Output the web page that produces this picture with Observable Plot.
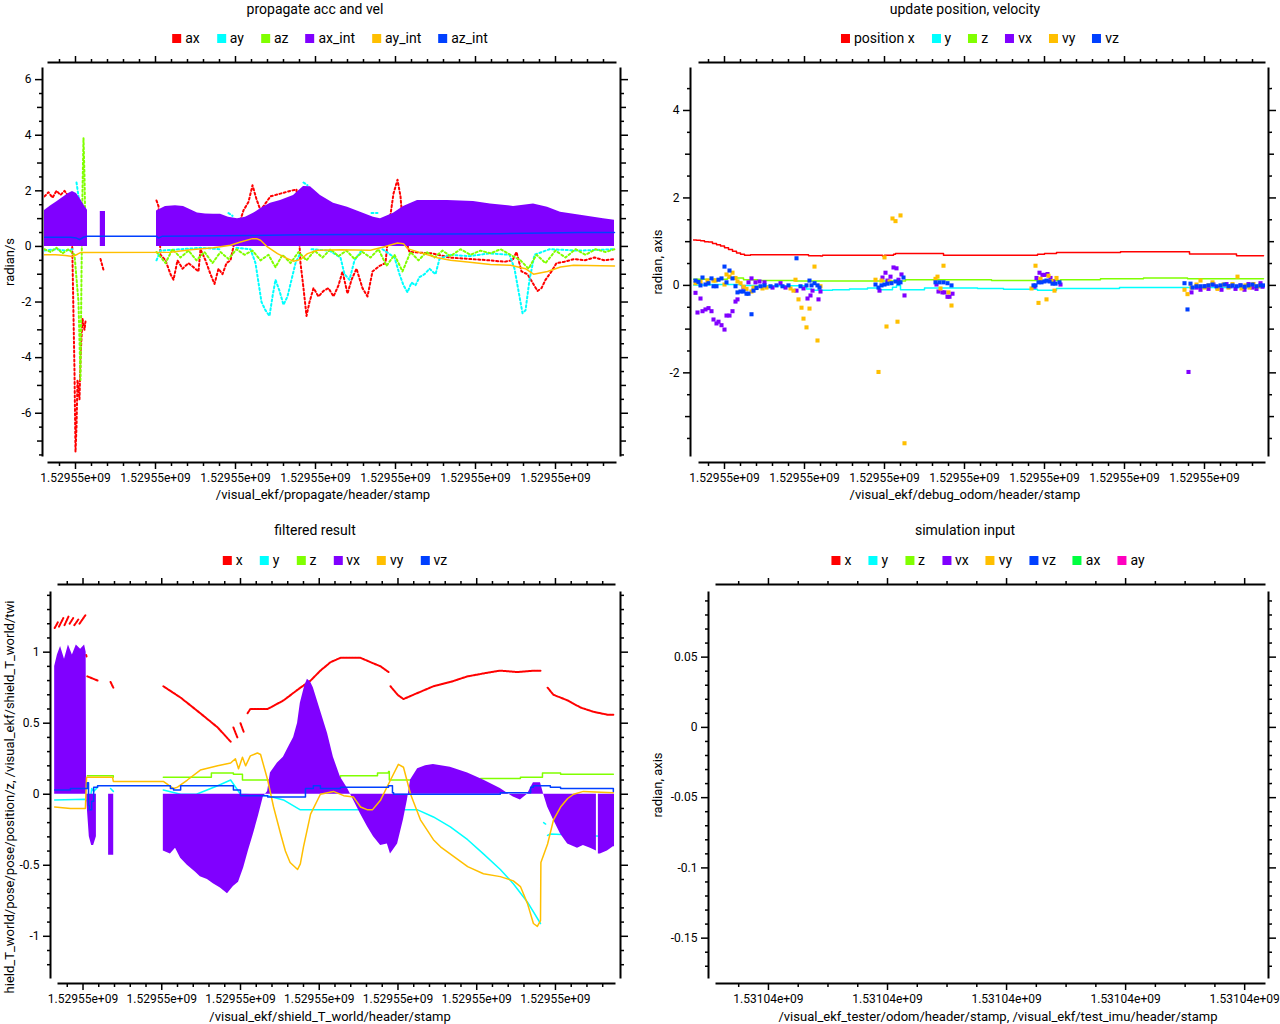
<!DOCTYPE html>
<html><head><meta charset="utf-8">
<script src="https://cdn.jsdelivr.net/npm/d3@7"></script>
<script src="https://cdn.jsdelivr.net/npm/@observablehq/plot@0.6"></script>
<style>
body{margin:0;background:#fff;}
#fig{position:relative;width:1280px;height:1024px;overflow:hidden;font-family:Roboto,"Noto Sans",sans-serif;color:#000;background:#fff;}
.title{position:absolute;font-size:14px;line-height:16px;white-space:nowrap;transform:translateX(-50%);}
.legend{position:absolute;display:flex;gap:17px;font-size:14px;line-height:16px;transform:translateX(-50%);white-space:nowrap;align-items:center;}
.legend .item{display:flex;align-items:center;}
.legend i{display:inline-block;width:9px;height:9px;margin-right:4px;}
.xlabel{position:absolute;font-size:13px;line-height:14px;transform:translateX(-50%);white-space:nowrap;}
.ylab{position:absolute;overflow:hidden;}
.ylab div{position:absolute;left:50%;top:50%;transform:translate(-50%,-50%) rotate(-90deg);white-space:nowrap;font-size:13px;line-height:14px;}
.plot{position:absolute;}
</style></head><body><div id="fig"></div><script>
// ---------- data ----------
const T0 = 1529550000;   // base of /visual_ekf stamps (s)
const T1 = 1531040000;   // base of simulation stamps (s)
const palette = ["#ff0000","#00ffff","#80ff00","#8000ff","#ffbf00","#0040ff","#00ff40","#ff00bf"];

// panel 1: propagate acc and vel  [time offset s, value]
const tlAx = [[32.25,1.8],[33.25,1.95],[34.25,1.75],[35.25,2.0],[36.25,1.85],[37.25,2.0],[38.25,1.8],[39,1.2],[39.25,-0.5],[39.5,-2.5],[39.75,-4.5],[40,-7.4],[40.25,-6.5],[40.5,-4.8],[41,-5.5],[41.25,-4.0],[41.75,-2.6],[42.25,-3.0],[42.5,-2.7],[43,NaN],[46.25,-0.45],[47,-0.85],[47.5,NaN],[60.25,1.65],[60.75,1.45],[61.25,-0.3],[62.5,-0.5],[63.75,-1.0],[64.5,-1.2],[65.5,-0.5],[66.75,-0.8],[68.25,-0.6],[69.5,-0.75],[70.75,-0.9],[71.25,-0.1],[72.5,-0.5],[73.75,-1.0],[74.75,-1.35],[75.75,-0.8],[76.75,-1.0],[77.75,-0.6],[78.75,-0.5],[80.25,0.5],[82,1.3],[83.25,1.6],[84.25,2.2],[85.25,1.7],[86.25,1.3],[88.75,1.8],[91.25,1.9],[93.75,2.0],[95.25,2.05],[96.25,-0.6],[97,-1.5],[97.75,-2.5],[98.5,-2.0],[99.5,-1.5],[100.75,-1.8],[102,-1.6],[103.25,-1.5],[104.5,-1.8],[105.75,-1.4],[106.75,-0.9],[108,-1.7],[109,-1.2],[110.25,-0.8],[111.75,-1.5],[113,-1.8],[114.25,-0.9],[116,-0.7],[117.5,-0.6],[118.5,0.9],[119.5,1.9],[120.5,2.4],[121.25,1.8],[122,0.5],[123.5,-0.2],[129.25,-0.25],[133.5,-0.4],[138.5,-0.45],[143.5,-0.5],[147.25,-0.55],[149.25,-0.5],[150.25,-0.2],[151.5,-0.9],[153,-1.0],[154.25,-1.3],[155.5,-1.6],[156.5,-1.5],[157.5,-1.2],[159,-0.9],[160.25,-0.6],[162.25,-0.55],[164.75,-0.45],[167.25,-0.5],[169.75,-0.4],[172.25,-0.5],[174.75,-0.45]];
const tlAy = [[32.25,-0.15],[35,-0.1],[37.5,-0.15],[39.25,-0.1],[39.5,NaN],[40.25,2.3],[40.75,1.8],[41.25,1.5],[41.5,NaN],[60.25,-0.5],[61.25,-0.15],[66.25,-0.1],[71.25,-0.05],[76.25,-0.1],[77,NaN],[78.25,1.2],[79.25,1.1],[79.5,NaN],[80.25,-0.05],[83.75,-0.1],[85,-0.6],[85.75,-1.3],[86.5,-2.0],[87.5,-2.3],[88.5,-2.5],[89.25,-1.8],[90,-1.2],[91,-1.6],[92,-2.1],[93,-1.8],[94,-1.2],[95,-0.6],[96,-0.3],[96.5,NaN],[97,2.3],[98,2.2],[98.5,NaN],[99,-0.1],[103.5,-0.15],[106.25,-0.4],[107.25,-1.0],[108.5,-1.2],[109.75,-0.5],[111.5,-0.15],[113,NaN],[114,1.2],[115.5,1.2],[116,NaN],[116.75,-0.1],[119.75,-0.4],[121,-1.0],[122,-1.4],[123,-1.65],[124,-1.3],[125,-1.4],[126,-1.1],[127.25,-1.0],[128.5,-0.8],[130,-1.0],[131,-0.45],[133.5,-0.3],[138.5,-0.35],[143.5,-0.25],[148.5,-0.3],[149.75,-0.8],[150.75,-1.6],[151.75,-2.4],[152.5,-2.3],[153.5,-1.2],[154.75,-0.3],[158.5,-0.1],[166,-0.15],[174.75,-0.1]];
const tlAz = [[32.25,-0.1],[33.75,-0.2],[35.25,-0.05],[36.75,-0.25],[38.25,-0.1],[39.75,-0.3],[40.75,-2.0],[41.25,-4.8],[41.5,-1.0],[41.75,2.0],[42,3.9],[42.25,2.5],[42.5,0.3],[43,NaN],[60.25,-0.2],[62.5,-0.6],[64.25,-0.1],[66.25,-0.4],[68.25,-0.15],[70.25,-0.5],[72.25,-0.2],[74.25,-0.6],[76.25,-0.2],[78.25,-0.45],[80.25,-0.1],[82.25,-0.3],[84.25,-0.15],[86.25,-0.5],[88.25,-0.3],[90,-0.75],[91.75,-0.3],[93.75,-0.6],[95.75,-0.2],[97.75,-0.5],[99.75,-0.15],[101.75,-0.4],[103.75,-0.1],[105.75,-0.35],[107.75,-0.15],[109.75,-0.45],[111.75,-0.2],[113.75,-0.4],[115.75,-0.1],[117.75,-0.7],[119.75,-0.3],[121.75,-0.9],[123.75,-0.2],[125.75,-0.5],[127.75,-0.2],[129.75,-0.4],[131.75,-0.15],[133.75,-0.35],[136.25,-0.1],[138.75,-0.3],[141.25,-0.15],[143.75,-0.25],[146.25,-0.1],[148.75,-0.3],[151.25,-0.5],[153.25,-0.8],[155.25,-0.3],[157.5,-0.6],[160,-0.15],[162.5,-0.4],[165,-0.1],[167.5,-0.3],[170,-0.1],[172.5,-0.2],[174.75,-0.1]];
const tlAxInt = [[32.25,1.29],[33.75,1.45],[35.25,1.6],[36.75,1.75],[38.25,1.9],[39.25,1.98],[40.25,1.9],[41.25,1.7],[42.25,1.45],[43,1.3],[43.1,NaN],[46.2,1.26],[47.5,1.26],[47.6,NaN],[60.25,1.27],[61.25,1.35],[62.5,1.44],[65,1.46],[67,1.44],[68.75,1.32],[70.5,1.2],[72.5,1.17],[74.5,1.16],[76.25,1.16],[78.25,1.05],[80.5,1.0],[82.5,1.05],[84.5,1.19],[86.75,1.4],[88.75,1.55],[91.25,1.65],[94.5,1.83],[97,2.16],[98.75,2.15],[101.25,1.83],[104.5,1.55],[108,1.41],[111.25,1.23],[114.5,1.05],[116.25,1.0],[119.5,1.19],[122,1.44],[125.5,1.65],[133,1.65],[139.5,1.62],[143.75,1.53],[149.5,1.44],[154.5,1.53],[158,1.41],[161.25,1.23],[166.25,1.12],[172,1.0],[174.75,0.94]];
const tlAyInt = [[32.25,-0.3],[35,-0.3],[37.5,-0.33],[39.25,-0.36],[40.5,-0.28],[41.25,-0.22],[63.75,-0.21],[68.75,-0.12],[74.5,-0.05],[78.75,0.04],[81.25,0.16],[84.25,0.28],[85.25,0.28],[86.25,0.22],[88,-0.02],[90.5,-0.26],[93,-0.44],[94.5,-0.53],[96.25,-0.47],[98,-0.26],[100.5,-0.14],[106.25,-0.12],[113.75,-0.14],[117,-0.02],[120.5,0.12],[122,0.1],[123,-0.08],[127,-0.26],[130.5,-0.41],[133.75,-0.5],[138,-0.56],[143.75,-0.65],[148.75,-0.68],[152.5,-0.8],[154.5,-1.0],[158,-0.9],[161.25,-0.74],[164.5,-0.68],[174.75,-0.7]];
const tlAzInt = [[32.25,0.33],[38.75,0.33],[40.25,0.3],[41,0.25],[42,0.33],[43,0.37],[60.25,0.37],[60.75,0.3],[61.75,0.37],[83.5,0.39],[96,0.42],[121,0.44],[146,0.46],[166,0.5],[174.75,0.5]];

// panel 2: update position, velocity
const trPosX = [[32.25,1.04],[33,1.03],[34,1.02],[35,1.0],[36,0.99],[37,0.96],[38,0.93],[39,0.9],[40,0.86],[41,0.82],[42,0.78],[43,0.74],[44,0.71],[45,0.69],[46.5,0.7],[60.5,0.7],[61,0.68],[64,0.67],[64.5,0.69],[79,0.69],[79.5,0.67],[80,0.69],[82.25,0.71],[82.75,0.73],[94,0.73],[94.75,0.69],[117.75,0.69],[118.25,0.71],[120,0.73],[123,0.75],[138.75,0.75],[139,0.77],[155.5,0.77],[156.25,0.72],[167.5,0.72],[168,0.68],[174.75,0.68]];
const trPosY = [[32.25,0.01],[36.5,0.02],[44,0.0],[48,-0.01],[60.5,-0.08],[61.75,-0.11],[67,-0.1],[71.25,-0.08],[75.75,-0.06],[78.75,-0.1],[82,-0.04],[83,0.0],[84,-0.1],[90,-0.06],[103.25,-0.07],[109.75,-0.09],[118.25,-0.11],[123,-0.07],[138.75,-0.05],[174.75,-0.05]];
const trPosZ = [[32.25,0.14],[40.75,0.17],[44.75,0.13],[48.25,0.11],[57.75,0.1],[85.25,0.13],[106.75,0.11],[124,0.13],[134,0.15],[144.75,0.17],[155.75,0.15],[174.75,0.15]];
const trVx = [[32.75,-0.17],[33.25,-0.62],[34,-0.3],[34.5,-0.59],[35.25,-0.55],[36,-0.52],[36.75,-0.59],[37.25,-0.78],[38,-0.87],[38.5,-0.83],[39.25,-0.91],[40,-1.01],[40.5,-0.69],[41.25,-0.69],[42,-0.59],[42.75,-0.37],[43.25,-0.32],[44.75,-0.05],[46,0.07],[46.75,0.16],[47.75,0.07],[48.75,0.09],[50,0.07],[52,-0.05],[54,0.05],[55.25,-0.05],[58,-0.12],[59.75,-0.07],[60.75,-0.3],[61.5,-0.23],[62,-0.12],[63.5,-0.32],[64,-0.14],[78.75,-0.12],[79.5,0.18],[80.25,0.29],[80.75,0.11],[81.5,0.2],[82.25,0.41],[83,0.39],[83.5,0.13],[84.25,0.25],[85,-0.23],[93,0.02],[93.5,-0.14],[94.5,-0.16],[95,-0.16],[95.75,-0.26],[96.25,-0.26],[97,-0.19],[117.5,-0.03],[118,0.17],[118.75,0.29],[119.5,0.24],[120,0.24],[120.75,0.26],[121.5,0.17],[122.25,0.1],[124,0.02],[156,-1.98],[156.75,-0.16],[158,-0.05],[159,-0.1],[160.25,-0.02],[161,-0.08],[162.25,0.02],[163.25,-0.05],[164.25,-0.1],[165.5,0.03],[166.5,-0.02],[167.75,-0.08],[169,0.0],[170,-0.1],[171,0.03],[172,-0.05],[173,-0.08],[174,0.05],[174.5,-0.03]];
const trVy = [[32.75,0.05],[34,0.08],[35.75,0.11],[37.25,0.11],[37.75,0.11],[40,0.02],[40.5,0.25],[41.25,0.2],[42,0.29],[42.75,0.17],[43.25,0.09],[44,0.05],[44.75,-0.03],[45.5,-0.08],[46.75,-0.14],[47.25,-0.05],[48,-0.05],[49.5,-0.07],[50.5,-0.05],[56.5,-0.07],[57.25,-0.12],[57.75,0.13],[58.5,-0.32],[59.25,-0.51],[59.75,-0.76],[60.5,-0.96],[61.25,-0.53],[62.5,0.43],[63.25,-1.26],[64,-0.02],[77.75,0.13],[78.5,-1.98],[79.25,0.11],[80,0.64],[80.5,-0.94],[81.25,0.09],[82,1.53],[82.75,1.47],[83.25,-0.83],[84,1.6],[85,-3.61],[92.75,0.15],[93.25,0.2],[94,-0.07],[94.75,0.45],[96,-0.16],[96.75,-0.46],[116.75,-0.07],[117.75,0.45],[118.5,-0.4],[119,0.15],[120.5,-0.32],[121,0.22],[121.75,0.1],[122.5,-0.12],[123,0.17],[155,-0.1],[155.75,-0.2],[156.75,-0.05],[158,0.02],[159,0.11],[160,-0.05],[161,0.0],[162,0.07],[163.25,-0.08],[164.75,0.02],[166,-0.05],[167,0.03],[168.25,0.2],[169.25,-0.07],[170.25,0.0],[171.25,-0.05],[172.25,0.03],[173.5,-0.02]];
const trVz = [[32.75,0.11],[33.5,0.08],[34,0.0],[34.5,0.18],[35.25,0.02],[36,0.05],[36.75,0.16],[37.25,-0.02],[38,-0.02],[38.5,0.13],[39.25,0.16],[40,0.43],[40.5,0.07],[41.25,0.34],[42,0.16],[42.75,-0.02],[43.25,-0.16],[44,-0.14],[44.75,-0.14],[45.5,-0.19],[46,-0.19],[46.75,-0.66],[47.25,-0.12],[48,-0.06],[49,-0.02],[50,0.0],[51.5,-0.02],[53,0.0],[54.5,-0.02],[56,0.0],[58,0.62],[59,-0.02],[60.5,0.0],[61.25,0.11],[61.75,0.0],[62.5,0.05],[63.25,0.0],[63.75,-0.05],[77.75,0.02],[78.5,-0.05],[79.25,0.0],[80,0.02],[80.75,0.04],[81.75,0.05],[82.75,0.09],[83.5,0.05],[84,0.07],[84.75,0.18],[92.75,0.07],[93.75,0.07],[94.75,0.07],[95.75,0.05],[96.75,0.0],[117.25,0.0],[117.75,0.0],[118.5,0.07],[119.25,0.07],[120,0.09],[120.5,0.11],[121.25,0.09],[122,0.04],[122.75,0.04],[123.75,0.07],[155,0.05],[155.75,-0.55],[156.5,0.04],[157,-0.05],[158,-0.02],[159,-0.02],[160,-0.02],[161,0.0],[162,0.02],[163,-0.02],[164,0.0],[165,0.02],[166,-0.02],[167,0.0],[168,-0.02],[169,0.0],[170,-0.03],[171,0.0],[172,0.02],[173,-0.02],[174,0.0],[174.75,0.0]];

// panel 3: filtered result
const blX = [[32.8,1.17],[33.6,1.21],[33.7,NaN],[33.9,1.18],[35.0,1.24],[35.1,NaN],[35.3,1.19],[36.3,1.25],[36.4,NaN],[36.6,1.2],[37.5,1.24],[37.6,NaN],[37.8,1.19],[38.8,1.23],[38.9,NaN],[39.1,1.2],[40.6,1.26],[40.7,NaN],[40.8,0.98],[40.9,0.97],[41.0,NaN],[41.1,0.83],[43.7,0.8],[43.8,NaN],[47.0,0.79],[47.7,0.75],[47.8,NaN],[60.4,0.76],[64.8,0.68],[69.8,0.57],[74.2,0.47],[77.5,0.37],[77.6,NaN],[78.2,0.47],[79.2,0.4],[79.3,NaN],[80.0,0.5],[80.8,0.44],[80.9,NaN],[81.8,0.57],[82.5,0.6],[86.9,0.6],[90.9,0.66],[95.2,0.75],[97.8,0.8],[100.3,0.87],[102.9,0.93],[105.4,0.96],[110.5,0.96],[113.0,0.93],[115.6,0.9],[117.6,0.86],[117.8,NaN],[118.1,0.76],[119.9,0.7],[121.4,0.67],[123.9,0.7],[129.0,0.76],[133.3,0.79],[137.7,0.83],[141.7,0.85],[146.0,0.87],[150.4,0.86],[154.4,0.87],[156.2,0.87],[156.4,NaN],[156.7,0.8],[156.9,NaN],[158.0,0.75],[159.5,0.7],[163.1,0.66],[166.4,0.61],[169.7,0.58],[173.2,0.56],[174.7,0.56]];
const blY = [[32.8,-0.04],[40.6,-0.035],[41.1,-0.05],[41.6,-0.1],[42.2,0.04],[42.7,0.02],[43.7,0.05],[44.5,NaN],[47.0,0.04],[47.7,0.02],[48,NaN],[60.4,0.03],[64.8,0.0],[68.8,0.0],[74.2,0.06],[77.5,0.1],[80.0,0.0],[86.9,-0.01],[90.9,-0.04],[95.2,-0.11],[110.5,-0.11],[122.4,-0.11],[125.0,-0.11],[129.0,-0.16],[133.3,-0.23],[137.7,-0.32],[141.7,-0.42],[146.0,-0.53],[149.3,-0.63],[152.9,-0.76],[156.2,-0.91],[156.5,NaN],[157.0,-0.2],[157.5,-0.21],[157.7,NaN],[158.0,-0.29],[158.7,-0.28],[174.7,-0.3]];
const blZ = [[41.1,0.13],[44.4,0.13],[47.7,0.12],[48,NaN],[60.4,0.12],[72.4,0.12],[72.6,0.15],[77.5,0.15],[78.2,0.14],[80.0,0.14],[80.5,0.1],[86.3,0.1],[102.9,0.12],[105.4,0.13],[114.8,0.15],[117.6,0.16],[117.8,0.1],[123.2,0.1],[141.0,0.11],[151.1,0.12],[156.2,0.12],[156.7,0.15],[161.3,0.14],[174.7,0.14]];
const blVx = [[32.8,0.9],[33.5,0.98],[34.3,1.04],[35.3,0.95],[36.3,1.05],[37.3,0.98],[38.3,1.05],[39.4,1.02],[40.4,1.05],[40.8,1.0],[40.9,0.0],[41.1,-0.1],[41.6,-0.3],[42.2,-0.36],[42.7,-0.36],[43.4,-0.3],[43.7,NaN],[46.5,-0.43],[47.8,-0.43],[47.9,NaN],[60.4,-0.4],[62.2,-0.42],[63.5,-0.38],[64.8,-0.45],[66.5,-0.5],[68.6,-0.55],[69.8,-0.58],[71.6,-0.6],[73.1,-0.63],[74.9,-0.66],[76.7,-0.7],[78.2,-0.65],[79.5,-0.62],[80.8,-0.52],[82.0,-0.4],[83.3,-0.28],[84.6,-0.15],[85.8,-0.02],[86.9,0.02],[87.6,0.15],[89.4,0.22],[90.9,0.26],[92.2,0.33],[93.5,0.4],[94.5,0.5],[95.2,0.64],[96.3,0.76],[97.0,0.81],[97.8,0.79],[98.5,0.75],[100.3,0.59],[102.1,0.43],[103.6,0.26],[105.4,0.12],[107.2,0.04],[108.7,-0.04],[110.5,-0.14],[112.3,-0.23],[113.8,-0.3],[115.6,-0.36],[117.3,-0.35],[118.1,-0.42],[119.9,-0.35],[121.4,-0.18],[122.4,-0.04],[123.2,0.1],[125.0,0.18],[127.0,0.2],[129.0,0.21],[133.3,0.19],[137.7,0.15],[141.7,0.1],[146.0,0.04],[149.3,-0.02],[151.1,-0.04],[152.9,0.0],[154.4,0.08],[156.2,0.08],[157.0,0.0],[158.0,-0.09],[159.5,-0.18],[161.3,-0.28],[163.1,-0.35],[165.6,-0.38],[167.1,-0.36],[168.9,-0.38],[170.4,-0.4],[170.6,NaN],[170.9,-0.42],[171.4,-0.42],[173.2,-0.4],[174.7,-0.37],[175.0,-0.37]];
const blVy = [[32.8,-0.09],[36.8,-0.1],[40.6,-0.1],[40.9,0.12],[47.5,0.12],[47.7,0.09],[60.4,0.09],[63.0,0.04],[64.0,0.05],[66.5,0.1],[69.8,0.17],[74.2,0.2],[77.5,0.22],[78.7,0.25],[79.5,0.18],[80.5,0.26],[81.3,0.2],[82.5,0.27],[84.3,0.29],[85.1,0.28],[86.9,0.1],[88.4,-0.09],[90.2,-0.28],[91.4,-0.4],[92.6,-0.48],[94.5,-0.53],[95.2,-0.49],[96.0,-0.37],[97.8,-0.14],[100.3,0.0],[103.6,0.02],[106.2,-0.01],[108.7,-0.02],[110.5,-0.09],[112.3,-0.11],[113.5,-0.11],[115.6,-0.04],[118.1,0.1],[120.1,0.21],[121.4,0.19],[123.2,0.0],[125.7,-0.18],[129.0,-0.32],[130.8,-0.37],[137.7,-0.51],[141.7,-0.56],[146.0,-0.58],[149.3,-0.61],[151.1,-0.65],[152.9,-0.77],[154.4,-0.91],[155.4,-0.93],[156.2,-0.89],[156.3,-0.48],[158.0,-0.35],[159.5,-0.18],[161.3,-0.09],[163.1,-0.03],[164.6,0.0],[167.1,0.02],[174.7,0.01]];
const blVz = [[32.8,0.03],[36.8,0.04],[40.6,0.04],[41.1,0.08],[41.4,-0.08],[41.6,-0.11],[42.2,-0.05],[42.7,0.05],[43.7,0.06],[60.4,0.06],[62.2,0.04],[63.0,0.03],[64.8,0.06],[77.5,0.06],[78.2,0.03],[80.0,-0.01],[86.9,-0.02],[95.2,-0.02],[96.5,0.04],[98.5,0.06],[100.3,0.04],[103.6,0.04],[105.4,0.05],[117.6,0.06],[118.6,0.01],[118.9,0.0],[137.7,0.0],[146.0,0.01],[152.9,0.01],[153.7,0.05],[154.4,0.06],[157.0,0.06],[158.7,0.05],[161.3,0.04],[174.7,0.02]];

// legends / labels
const tlNames = ["ax","ay","az","ax_int","ay_int","az_int"];
const trNames = ["position x","y","z","vx","vy","vz"];
const blNames = ["x","y","z","vx","vy","vz"];
const brNames = ["x","y","z","vx","vy","vz","ax","ay"];

// ---------- helpers ----------
const rows = (pairs, base = T0) => pairs.map(([t, v]) => ({t: base + t, v}));
const fmtX = v => v.toExponential(5).replace(/e\+(\d)$/, "e+0$1");
const fmtY = v => String(+v.toFixed(3));
const fig = document.getElementById("fig");

function addDiv(cls, html, css) {
  const d = document.createElement("div");
  d.className = cls; d.innerHTML = html; Object.assign(d.style, css);
  fig.appendChild(d); return d;
}
function legend(names, cx, cy) {
  const html = names.map((n, i) => `<span class="item"><i style="background:${palette[i]}"></i>${n}</span>`).join("");
  addDiv("legend", html, {left: cx + "px", top: (cy - 8) + "px"});
}
function ylabel(text, cx, top, h) {
  addDiv("ylab", `<div>${text}</div>`, {left: (cx - 12) + "px", top: top + "px", width: "24px", height: h + "px"});
}
function ticksBetween(lo, hi, step, majorStep) {
  const out = [];
  for (let k = Math.ceil(lo / step - 1e-9); k * step <= hi + 1e-9; k++) {
    const v = +(k * step).toFixed(6);
    if (majorStep && Math.abs(v / majorStep - Math.round(v / majorStep)) < 1e-6) continue;
    out.push(v);
  }
  return out;
}

function panel(cfg) {
  const {left, top, ml, mr, mt, mb, xDomain, yDomain, base, xMajor, xMinor, yMajor, yMedium, yMinor, off, marks} = cfg;
  const X = a => a.map(v => base + v);
  const hidden = {tickFormat: () => "", fill: "none", label: null, strokeWidth: 1.5};
  const fr = {stroke: "black", strokeWidth: 2};
  const p = Plot.plot({
    width: 640, height: 440,
    marginLeft: ml, marginRight: mr, marginTop: mt, marginBottom: mb,
    style: {fontFamily: "Roboto, 'Noto Sans', sans-serif", fontSize: "12px", background: "transparent", overflow: "visible", color: "black"},
    x: {domain: xDomain.map(v => base + v)},
    y: {domain: yDomain},
    marks: [
      ...marks,
      Plot.frame({anchor: "left", dx: off.l, ...fr}),
      Plot.frame({anchor: "right", dx: off.r, ...fr}),
      Plot.frame({anchor: "top", dy: off.t, insetLeft: off.il, insetRight: 1, ...fr}),
      Plot.frame({anchor: "bottom", dy: off.b, insetLeft: off.il, insetRight: 1, ...fr}),
      Plot.axisX(X(xMajor), {anchor: "bottom", dy: off.b, tickSize: 7, tickPadding: 4, tickFormat: fmtX, label: null, strokeWidth: 1.5}),
      Plot.axisX(X(xMinor), {anchor: "bottom", dy: off.b, tickSize: 4, ...hidden}),
      Plot.axisX(X(xMajor), {anchor: "top", dy: off.t, tickSize: 7, ...hidden}),
      Plot.axisX(X(xMinor), {anchor: "top", dy: off.t, tickSize: 4, ...hidden}),
      Plot.axisY(yMajor, {anchor: "left", dx: off.l, tickSize: 7, tickPadding: 4, tickFormat: fmtY, label: null, strokeWidth: 1.5}),
      Plot.axisY(yMedium, {anchor: "left", dx: off.l, tickSize: 5, ...hidden}),
      Plot.axisY(yMinor, {anchor: "left", dx: off.l, tickSize: 3, ...hidden}),
      Plot.axisY(yMajor, {anchor: "right", dx: off.r, tickSize: 7, ...hidden}),
      Plot.axisY(yMedium, {anchor: "right", dx: off.r, tickSize: 5, ...hidden}),
      Plot.axisY(yMinor, {anchor: "right", dx: off.r, tickSize: 3, ...hidden})
    ]
  });
  p.classList.add("plot");
  Object.assign(p.style, {left: left + "px", top: top + "px"});
  fig.appendChild(p);
}

const dotted = (pairs, c) => Plot.line(rows(pairs), {x: "t", y: "v", stroke: c, strokeWidth: 2, strokeDasharray: "2,2.5", clip: true});
const solid = (pairs, c, curve = "linear") => Plot.line(rows(pairs), {x: "t", y: "v", stroke: c, strokeWidth: 1.5, curve, clip: true});
const area = (pairs, c) => Plot.areaY(rows(pairs), {x: "t", y1: 0, y2: "v", fill: c, curve: "linear", clip: true});
const squares = (pairs, c) => Plot.dot(rows(pairs), {x: "t", y: "v", symbol: "square", r: 2.3, fill: c, clip: true});

const P = palette;
const sharedX = [32.25, 175.25];
const xMaj = [40, 60, 80, 100, 120, 140, 160];
const xMin = ticksBetween(32.25, 175.25, 4, 20);

// ---------- panel 1 ----------
addDiv("title", "propagate acc and vel", {left: "315px", top: "1px"});
legend(tlNames, 330, 38);
panel({left: 0, top: 50, ml: 44, mr: 24, mt: 18, mb: 35, base: T0,
  xDomain: sharedX, yDomain: [-7.52, 6.40],
  xMajor: xMaj, xMinor: xMin,
  yMajor: [-6, -4, -2, 0, 2, 4, 6], yMedium: [-7, -5, -3, -1, 1, 3, 5], yMinor: ticksBetween(-7.52, 6.4, 0.5, 1),
  off: {l: -2, r: 4, t: -6, b: 7, il: 4},
  marks: [dotted(tlAx, P[0]), dotted(tlAy, P[1]), dotted(tlAz, P[2]), area(tlAxInt, P[3]), solid(tlAyInt, P[4]), solid(tlAzInt, P[5])]});
addDiv("xlabel", "/visual_ekf/propagate/header/stamp", {left: "323px", top: "488px"});
ylabel("radian/s", 10, 68, 387);

// ---------- panel 2 ----------
addDiv("title", "update position, velocity", {left: "965px", top: "1px"});
legend(trNames, 980, 38);
panel({left: 640, top: 50, ml: 53, mr: 15, mt: 18, mb: 35, base: T0,
  xDomain: sharedX, yDomain: [-3.89, 4.96],
  xMajor: xMaj, xMinor: xMin,
  yMajor: [-2, 0, 2, 4], yMedium: [-3, -1, 1, 3], yMinor: ticksBetween(-3.89, 4.96, 0.5, 1),
  off: {l: -3, r: 3, t: -6, b: 7, il: 6},
  marks: [solid(trPosX, P[0], "step-after"), solid(trPosY, P[1], "step-after"), solid(trPosZ, P[2], "step-after"),
          squares(trVx, P[3]), squares(trVy, P[4]), squares(trVz, P[5])]});
addDiv("xlabel", "/visual_ekf/debug_odom/header/stamp", {left: "965px", top: "488px"});
ylabel("radian, axis", 658, 68, 387);

// ---------- panel 3 ----------
addDiv("title", "filtered result", {left: "315px", top: "522px"});
legend(blNames, 335, 560);
panel({left: 0, top: 572, ml: 52, mr: 25, mt: 20, mb: 35, base: T0,
  xDomain: sharedX, yDomain: [-1.29, 1.42],
  xMajor: xMaj, xMinor: xMin,
  yMajor: [-1, -0.5, 0, 0.5, 1], yMedium: [], yMinor: ticksBetween(-1.29, 1.42, 0.1, 0.5),
  off: {l: -2, r: 5, t: -8, b: 6, il: 6},
  marks: [Plot.line(rows(blX), {x: "t", y: "v", stroke: P[0], strokeWidth: 2, strokeDasharray: "2,1", clip: true}),
          solid(blY, P[1]), solid(blZ, P[2], "step-after"), area(blVx, P[3]), solid(blVy, P[4]), solid(blVz, P[5], "step-after")]});
addDiv("xlabel", "/visual_ekf/shield_T_world/header/stamp", {left: "330px", top: "1010px"});
ylabel("hield_T_world/pose/pose/position/z, /visual_ekf/shield_T_world/twi", 10, 588, 417);

// ---------- panel 4 ----------
addDiv("title", "simulation input", {left: "965px", top: "522px"});
legend(brNames, 988, 560);
panel({left: 640, top: 572, ml: 72, mr: 15, mt: 20, mb: 35, base: T1,
  xDomain: [10.6, 103.5], yDomain: [-0.178, 0.096],
  xMajor: [20, 40, 60, 80, 100], xMinor: ticksBetween(10.6, 103.5, 5, 20),
  yMajor: [-0.15, -0.1, -0.05, 0, 0.05], yMedium: [], yMinor: ticksBetween(-0.178, 0.096, 0.01, 0.05),
  off: {l: -4, r: 3, t: -8, b: 6, il: 4},
  marks: []});
addDiv("xlabel", "/visual_ekf_tester/odom/header/stamp, /visual_ekf/test_imu/header/stamp", {left: "998px", top: "1010px"});
ylabel("radian, axis", 658, 592, 385);
</script></body></html>
